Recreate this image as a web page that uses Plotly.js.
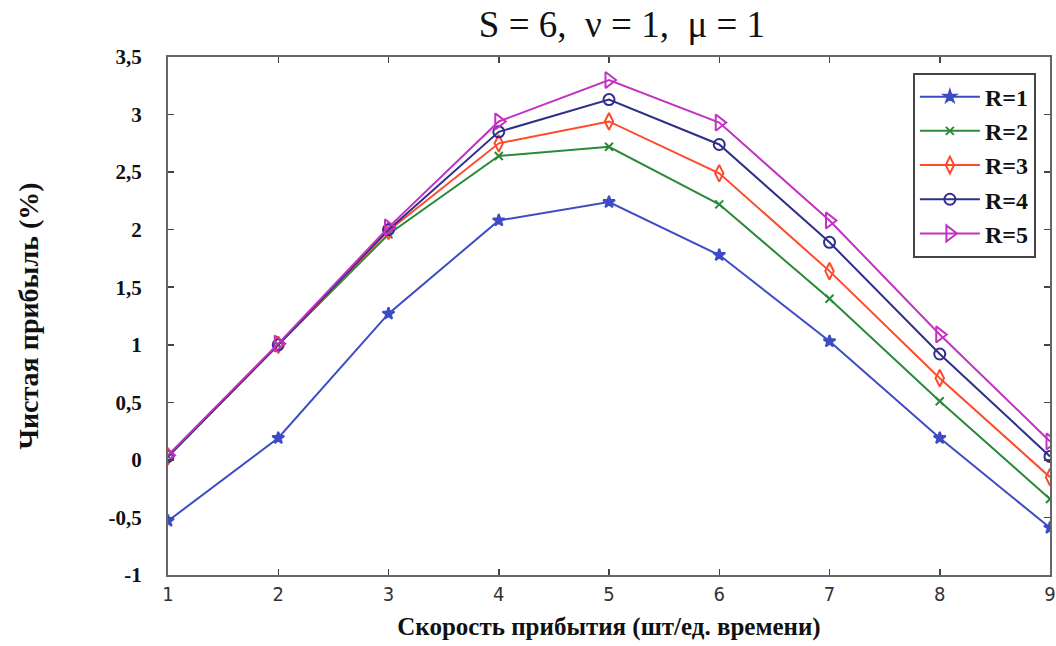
<!DOCTYPE html>
<html>
<head>
<meta charset="utf-8">
<script src="https://cdn.plot.ly/plotly-3.0.1.min.js"></script>
<style>html,body{margin:0;padding:0;background:#fff;}#chart{width:1056px;height:646px;}</style>
</head>
<body>
<div id="chart"></div>
<script>
const xValues = [1, 2, 3, 4, 5, 6, 7, 8, 9];
const seriesNames = ["R=1", "R=2", "R=3", "R=4", "R=5"];
const r1 = [-0.53, 0.19, 1.27, 2.08, 2.24, 1.78, 1.03, 0.19, -0.59];
const r2 = [0.03, 1.00, 1.96, 2.64, 2.72, 2.22, 1.40, 0.51, -0.34];
const r3 = [0.03, 1.00, 1.99, 2.75, 2.94, 2.49, 1.64, 0.71, -0.15];
const r4 = [0.03, 1.00, 2.00, 2.85, 3.13, 2.74, 1.89, 0.92, 0.03];
const r5 = [0.04, 1.01, 2.02, 2.94, 3.30, 2.93, 2.08, 1.09, 0.16];
const yTickVals = [-1, -0.5, 0, 0.5, 1, 1.5, 2, 2.5, 3, 3.5];
const yTickText = ["-1", "-0,5", "0", "0,5", "1", "1,5", "2", "2,5", "3", "3,5"];
const xTickVals = [1, 2, 3, 4, 5, 6, 7, 8, 9];

const serif = "Liberation Serif, Times New Roman, serif";
const colors = ["#3d4cc4", "#2a8a3a", "#ff4a2a", "#2f2f8c", "#c232c2"];
const symbols = ["star", "x-thin-open", "diamond-tall-open", "circle-open", "triangle-right-open"];
const sizes = [9, 8, 12, 11, 14];
const allY = [r1, r2, r3, r4, r5];

const traces = allY.map((y, i) => ({
  x: xValues,
  y: y,
  name: seriesNames[i],
  type: "scatter",
  mode: "lines+markers",
  line: {color: colors[i], width: 2},
  marker: {symbol: symbols[i], size: sizes[i], color: colors[i], line: {color: colors[i], width: 2}}
}));

const layout = {
  width: 1056, height: 646,
  margin: {l: 168, r: 6, t: 57, b: 71},
  paper_bgcolor: "#fff", plot_bgcolor: "#fff",
  showlegend: true,
  font: {family: serif},
  title: {text: "S = 6,  ν = 1,  μ = 1", font: {family: serif, size: 37, color: "#111"}, x: 0.589, xanchor: "center", y: 0.962, yanchor: "middle"},
  xaxis: {
    range: [1, 9], tickvals: xTickVals, showgrid: false, zeroline: false,
    showline: true, linecolor: "#666", linewidth: 2, mirror: "ticks",
    ticks: "inside", ticklen: 6, tickwidth: 1.5, tickcolor: "#444",
    ticklabeloverflow: "allow",
    tickfont: {family: "DejaVu Sans Condensed, sans-serif", size: 20, color: "#333"},
    title: {text: "Скорость прибытия (шт/ед. времени)", font: {family: serif, size: 25, color: "#111", weight: "bold"}, standoff: 12}
  },
  yaxis: {
    range: [-1, 3.5], tickvals: yTickVals, ticktext: yTickText, showgrid: false, zeroline: false,
    showline: true, linecolor: "#666", linewidth: 2, mirror: "ticks",
    ticks: "inside", ticklen: 6, tickwidth: 1.5, tickcolor: "#444",
    ticklabelstandoff: 20,
    tickfont: {family: serif, size: 21, color: "#111", weight: "bold"},
    title: {text: "Чистая прибыль (%)", font: {family: serif, size: 28, color: "#111", weight: "bold"}, standoff: 62}
  },
  legend: {
    x: 0.984, xanchor: "right", y: 0.97, yanchor: "top",
    bgcolor: "#fff", bordercolor: "#444", borderwidth: 2,
    font: {family: serif, size: 24, color: "#111", weight: "bold"},
    itemwidth: 60, tracegroupgap: 2
  }
};

Plotly.newPlot("chart", traces, layout, {displayModeBar: false, staticPlot: true});
</script>
</body>
</html>
